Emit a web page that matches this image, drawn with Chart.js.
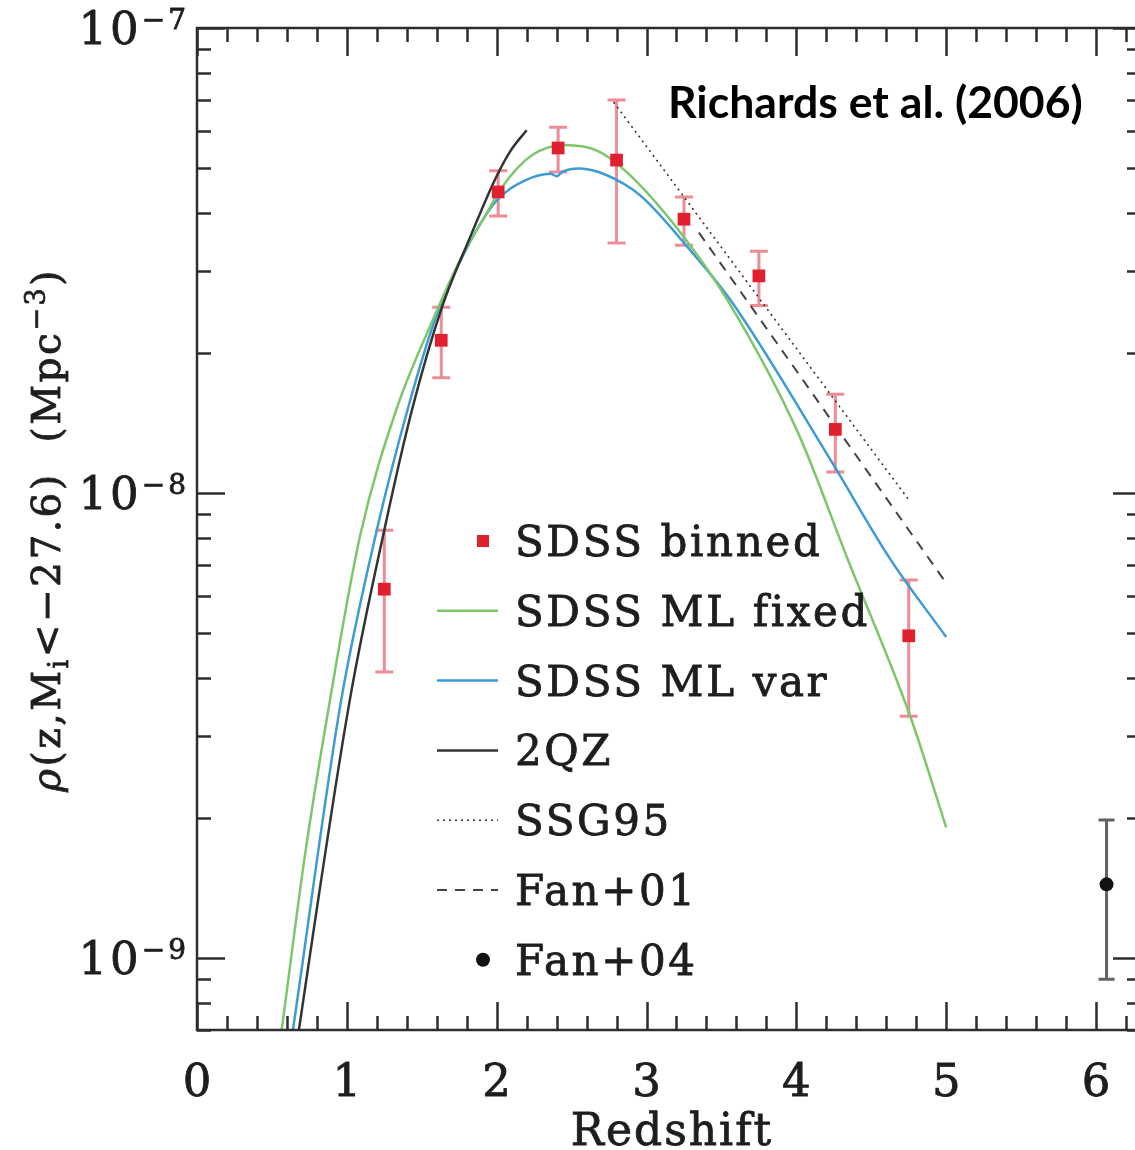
<!DOCTYPE html>
<html>
<head>
<meta charset="utf-8">
<script src="https://cdn.jsdelivr.net/npm/chart.js@4.4.1/dist/chart.umd.min.js"></script>
<style>
  html, body { margin: 0; padding: 0; background: #fff; overflow: hidden; }
  #wrap { width: 1150px; height: 1150px; }
</style>
</head>
<body>
<div id="wrap"><canvas id="qlf" width="1150" height="1150"></canvas></div>
<script>
// ---- SDSS binned space density (z, rho, lower/upper error) ----
const binZ   = [1.25, 1.63, 2.01, 2.41, 2.80, 3.25, 3.75, 4.26, 4.75];
const binRho = [6.21e-9, 2.13e-8, 4.44e-8, 5.52e-8, 5.20e-8, 3.88e-8, 2.93e-8, 1.37e-8, 4.93e-9];
const binLo  = [4.12e-9, 1.77e-8, 3.94e-8, 4.90e-8, 3.45e-8, 3.41e-8, 2.53e-8, 1.11e-8, 3.31e-9];
const binHi  = [8.32e-9, 2.51e-8, 4.93e-8, 6.12e-8, 7.00e-8, 4.33e-8, 3.31e-8, 1.63e-8, 6.50e-9];

// ---- Fan+04 point at z~6 ----
const fan04Z = [6.07];
const fan04Rho = [1.44e-9];
const fan04Lo = [9.0e-10];
const fan04Hi = [1.98e-9];

// ---- SDSS ML fixed ----
const fixedZ   = [0.52, 0.565, 0.72, 0.88, 1.09, 1.33, 1.57, 1.77, 1.93, 2.03, 2.23, 2.45, 2.68, 2.90, 3.25, 3.54, 4.01, 4.34, 4.76, 5.00];
const fixedRho = [5.50e-10, 7.00e-10, 1.66e-9, 3.47e-9, 8.13e-9, 1.51e-8, 2.34e-8, 3.24e-8, 3.98e-8, 4.52e-8, 5.31e-8, 5.60e-8, 5.43e-8, 4.79e-8, 3.55e-8, 2.60e-8, 1.35e-8, 7.24e-9, 3.31e-9, 1.91e-9];

// ---- SDSS ML var ----
const varZ   = [0.60, 0.64, 0.96, 1.20, 1.415, 1.595, 1.79, 1.99, 2.19, 2.36, 2.40, 2.44, 2.55, 2.68, 2.90, 3.01, 3.25, 3.56, 4.23, 4.63, 5.00];
const varRho = [5.75e-10, 7.00e-10, 3.55e-9, 8.32e-9, 1.55e-8, 2.39e-8, 3.31e-8, 4.22e-8, 4.70e-8, 4.86e-8, 4.80e-8, 4.91e-8, 4.99e-8, 4.90e-8, 4.51e-8, 4.21e-8, 3.45e-8, 2.60e-8, 1.175e-8, 7.18e-9, 4.90e-9];

// ---- 2QZ ----
const qzZ   = [0.66, 0.68, 1.02, 1.25, 1.435, 1.635, 1.81, 1.99, 2.09, 2.20];
const qzRho = [6.31e-10, 7.00e-10, 3.59e-9, 8.32e-9, 1.51e-8, 2.51e-8, 3.47e-8, 4.73e-8, 5.43e-8, 6.03e-8];

// ---- SSG95 and Fan+01 power-law fits ----
const ssgZ = [2.78, 4.76];
const ssgRho = [6.93e-8, 9.57e-9];
const fan01Z = [3.35, 5.00];
const fan01Rho = [3.63e-8, 6.40e-9];

// ---- axis tick labels ----
const xTickValues = [0, 1, 2, 3, 4, 5, 6];
const xTickLabels = ['0', '1', '2', '3', '4', '5', '6'];
const yTickExps = [-7, -8, -9];

const legendLabels = ['SDSS binned', 'SDSS ML fixed', 'SDSS ML var', '2QZ', 'SSG95', 'Fan+01', 'Fan+04'];

const pts = (xs, ys) => xs.map((x, i) => ({ x: x, y: ys[i] }));

const RED = '#e0202e';
const RED_ERR = 'rgba(228, 70, 84, 0.62)';
const GREEN = '#7cc66c';
const BLUE = '#3d9bd6';
const DARK = '#2e2e2e';
const INK = '#1e1e1e';
const SERIF = '"DejaVu Serif", serif';

function errorBars(chart, xs, lo, hi, color, capHalf) {
  const ctx = chart.ctx, sx = chart.scales.x, sy = chart.scales.y;
  ctx.save();
  ctx.strokeStyle = color;
  ctx.lineWidth = 3;
  xs.forEach((z, i) => {
    const px = sx.getPixelForValue(z);
    const y1 = sy.getPixelForValue(lo[i]);
    const y2 = sy.getPixelForValue(hi[i]);
    ctx.beginPath();
    ctx.moveTo(px, y1); ctx.lineTo(px, y2);
    ctx.moveTo(px - capHalf, y1); ctx.lineTo(px + capHalf, y1);
    ctx.moveTo(px - capHalf, y2); ctx.lineTo(px + capHalf, y2);
    ctx.stroke();
  });
  ctx.restore();
}

// filled text with a hairline outline for a heavier stroke weight
function inkText(ctx, t, x, y) {
  ctx.fillText(t, x, y);
  ctx.strokeText(t, x, y);
}

function runsWidth(ctx, runs, base) {
  let w = 0;
  runs.forEach(r => {
    ctx.font = (r.italic ? 'italic ' : '') + (r.size || base) + 'px ' + SERIF;
    w += ctx.measureText(r.t).width;
  });
  return w;
}
function drawRuns(ctx, runs, x, y, base) {
  let cx = x;
  runs.forEach(r => {
    ctx.font = (r.italic ? 'italic ' : '') + (r.size || base) + 'px ' + SERIF;
    inkText(ctx, r.t, cx, y + (r.dy || 0));
    cx += ctx.measureText(r.t).width;
  });
}

const errorPlugin = {
  id: 'errorPlugin',
  beforeDatasetsDraw(chart) {
    errorBars(chart, binZ, binLo, binHi, RED_ERR, 9);
    errorBars(chart, fan04Z, fan04Lo, fan04Hi, 'rgba(70,70,70,0.85)', 8);
  }
};

const framePlugin = {
  id: 'framePlugin',
  afterDatasetsDraw(chart) {
    const ctx = chart.ctx, a = chart.chartArea, sx = chart.scales.x, sy = chart.scales.y;
    ctx.save();
    ctx.strokeStyle = DARK;
    ctx.lineWidth = 2.5;
    ctx.strokeRect(a.left, a.top, a.right - a.left, a.bottom - a.top);

    ctx.beginPath();
    // x ticks every 0.2, major at integers
    for (let k = 0; k <= 31; k++) {
      const v = k * 0.2;
      if (v > sx.max) break;
      const px = Math.round(sx.getPixelForValue(v)) + 0.5;
      const len = (k % 5 === 0) ? 28 : 14;
      ctx.moveTo(px, a.bottom); ctx.lineTo(px, a.bottom - len);
      ctx.moveTo(px, a.top); ctx.lineTo(px, a.top + len);
    }
    // y ticks: decades major, 2..9 minor
    for (let e = -10; e <= -7; e++) {
      for (let m = 1; m <= 9; m++) {
        const v = m * Math.pow(10, e);
        if (v < sy.min * 0.999 || v > sy.max * 1.001) continue;
        const py = Math.round(sy.getPixelForValue(v)) + 0.5;
        const len = (m === 1) ? 28 : 14;
        ctx.moveTo(a.left, py); ctx.lineTo(a.left + len, py);
        ctx.moveTo(a.right, py); ctx.lineTo(a.right - len, py);
      }
    }
    ctx.stroke();
    ctx.restore();
  },
  afterDraw(chart) {
    const ctx = chart.ctx, sx = chart.scales.x, sy = chart.scales.y;
    ctx.save();
    ctx.fillStyle = INK;
    ctx.strokeStyle = INK;
    ctx.lineWidth = 0.8;
    ctx.textBaseline = 'alphabetic';

    // x tick labels
    ctx.letterSpacing = '0px';
    ctx.font = '45px ' + SERIF;
    ctx.textAlign = 'center';
    xTickValues.forEach((v, i) => {
      inkText(ctx, xTickLabels[i], sx.getPixelForValue(v), 1096);
    });

    // x title
    ctx.letterSpacing = '2px';
    ctx.font = '44px ' + SERIF;
    inkText(ctx, 'Redshift', 672, 1145);

    // y tick labels 10^e
    ctx.textAlign = 'left';
    ctx.letterSpacing = '3px';
    yTickExps.forEach(e => {
      const py = sy.getPixelForValue(Math.pow(10, e));
      const runs = [{ t: '10', size: 45 }, { t: '\u2212' + Math.abs(e), size: 28, dy: -15 }];
      const w = runsWidth(ctx, runs, 45);
      drawRuns(ctx, runs, 189 - w, py + 16, 45);
    });

    // y title (rotated)
    ctx.save();
    ctx.translate(46, 530);
    ctx.rotate(-Math.PI / 2);
    ctx.letterSpacing = '2.5px';
    const yRuns = [
      { t: '\u03c1', italic: true },
      { t: '(z,M' },
      { t: 'i', size: 27, dy: 8 },
      { t: '<\u221227.6)  (Mpc' },
      { t: '\u22123', size: 27, dy: -15 },
      { t: ')' }
    ];
    const yw = runsWidth(ctx, yRuns, 39);
    drawRuns(ctx, yRuns, -yw / 2, 14, 39);
    ctx.restore();

    // legend
    const lx0 = 437, lx1 = 498, tx = 515, ly0 = 541, dy = 69.8;
    ctx.letterSpacing = '2.6px';
    ctx.font = '42px ' + SERIF;
    legendLabels.forEach((lab, i) => {
      const y = ly0 + i * dy;
      ctx.save();
      if (lab === 'SDSS binned') {
        ctx.fillStyle = RED;
        ctx.fillRect(477, y - 6, 12, 12);
      } else if (lab === 'Fan+04') {
        ctx.fillStyle = '#111';
        ctx.beginPath(); ctx.arc(483, y, 7, 0, Math.PI * 2); ctx.fill();
      } else {
        const ds = chart.data.datasets.find(d => d.label === lab);
        ctx.strokeStyle = ds.borderColor;
        ctx.lineWidth = ds.borderWidth;
        ctx.setLineDash(ds.borderDash || []);
        ctx.beginPath(); ctx.moveTo(lx0, y); ctx.lineTo(lx1, y); ctx.stroke();
      }
      ctx.restore();
      inkText(ctx, lab, tx, y + 15);
    });

    // annotation
    ctx.letterSpacing = '0px';
    ctx.fillStyle = '#000';
    let fs = 40;
    const titleText = 'Richards et al. (2006)';
    ctx.font = 'bold ' + fs + 'px Lato, "Liberation Sans", sans-serif';
    fs = fs * 415 / ctx.measureText(titleText).width;
    ctx.font = 'bold ' + fs.toFixed(1) + 'px Lato, "Liberation Sans", sans-serif';
    ctx.fillText(titleText, 668, 118);
    ctx.restore();
  }
};

new Chart(document.getElementById('qlf'), {
  type: 'scatter',
  data: {
    datasets: [
      { label: 'SDSS binned', data: pts(binZ, binRho), pointStyle: 'rect', pointRadius: 9,
        backgroundColor: RED, borderWidth: 0, showLine: false, order: 0 },
      { label: 'Fan+04', data: pts(fan04Z, fan04Rho), pointStyle: 'circle', pointRadius: 7,
        backgroundColor: '#111', borderWidth: 0, showLine: false, order: 0 },
      { label: 'SDSS ML fixed', data: pts(fixedZ, fixedRho), showLine: true, borderColor: GREEN,
        borderWidth: 2.5, pointRadius: 0, cubicInterpolationMode: 'monotone', order: 2 },
      { label: 'SDSS ML var', data: pts(varZ, varRho), showLine: true, borderColor: BLUE,
        borderWidth: 2.5, pointRadius: 0, cubicInterpolationMode: 'monotone', order: 2 },
      { label: '2QZ', data: pts(qzZ, qzRho), showLine: true, borderColor: '#333',
        borderWidth: 2.5, pointRadius: 0, cubicInterpolationMode: 'monotone', order: 1 },
      { label: 'SSG95', data: pts(ssgZ, ssgRho), showLine: true, borderColor: '#333',
        borderWidth: 1.6, borderDash: [2, 4], pointRadius: 0, order: 1 },
      { label: 'Fan+01', data: pts(fan01Z, fan01Rho), showLine: true, borderColor: '#444',
        borderWidth: 2, borderDash: [10, 8], pointRadius: 0, order: 1 }
    ]
  },
  options: {
    responsive: false,
    animation: false,
    devicePixelRatio: 1,
    events: [],
    layout: { padding: { left: 197, top: 28, right: 5, bottom: 120 } },
    scales: {
      x: { type: 'linear', min: 0, max: 6.3, display: false },
      y: { type: 'logarithmic', min: 7.0e-10, max: 1e-7, display: false }
    },
    plugins: { legend: { display: false }, tooltip: { enabled: false } }
  },
  plugins: [errorPlugin, framePlugin]
});
</script>
</body>
</html>
